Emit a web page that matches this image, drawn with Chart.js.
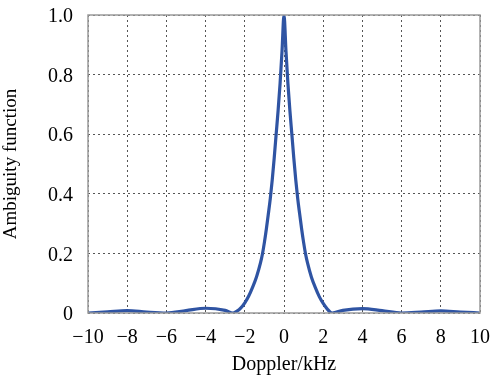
<!DOCTYPE html>
<html>
<head>
<meta charset="utf-8">
<script src="https://cdn.jsdelivr.net/npm/chart.js@4.4.0/dist/chart.umd.min.js"></script>
<style>
  html, body { margin: 0; padding: 0; background: #fff; }
  #wrap { width: 496px; height: 378px; }
</style>
</head>
<body>
<div id="wrap"><canvas id="amb"></canvas></div>
<script>
// values
const dopplerKHz = [-10, -9, -8, -7, -6, -5, -4, -3, -2.6, -2.4, -2.2, -2, -1.8, -1.6, -1.4, -1.2, -1.1, -1, -0.9, -0.8, -0.7, -0.6, -0.5, -0.4, -0.3, -0.2, -0.1, 0,
                    0.1, 0.2, 0.3, 0.4, 0.5, 0.6, 0.7, 0.8, 0.9, 1, 1.1, 1.2, 1.4, 1.6, 1.8, 2, 2.2, 2.45, 3, 4, 5, 6, 7, 8, 9, 10];
const ambiguity = [0, 0.004, 0.008, 0.003, 0, 0.008, 0.016, 0.009, 0, 0.006, 0.017, 0.034, 0.057, 0.087, 0.122, 0.168, 0.198, 0.237, 0.282, 0.332, 0.384, 0.447, 0.52, 0.6, 0.68, 0.77, 0.88, 1.0,
                   0.88, 0.77, 0.68, 0.6, 0.52, 0.447, 0.384, 0.332, 0.282, 0.237, 0.198, 0.168, 0.12, 0.085, 0.055, 0.032, 0.014, 0, 0.009, 0.015, 0.008, 0, 0.003, 0.007, 0.003, 0];
const xTicks = [-10, -8, -6, -4, -2, 0, 2, 4, 6, 8, 10];
const yTicks = [0, 0.2, 0.4, 0.6, 0.8, 1.0];

let pts = [];
for (let i = 0; i < dopplerKHz.length; i++) {
    pts.push({x: dopplerKHz[i], y: ambiguity[i]});
}

const frame = {
    id: 'frame',
    afterDraw(chart) {
        let c = chart.ctx, a = chart.chartArea;
        c.save();
        c.strokeStyle = '#9a9a9a';
        c.lineWidth = 1.5;
        c.strokeRect(a.left, a.top, a.right - a.left, a.bottom - a.top);
        c.restore();
    }
};

new Chart(document.getElementById('amb'), {
    type: 'line',
    data: {
        datasets: [{
            data: pts,
            borderColor: '#2f54a3',
            borderWidth: 3.2,
            pointRadius: 0,
            cubicInterpolationMode: 'monotone',
            fill: false
        }]
    },
    options: {
        responsive: true,
        maintainAspectRatio: false,
        animation: false,
        layout: { padding: { top: 15, right: 16, left: 0, bottom: 0 } },
        plugins: { legend: { display: false }, tooltip: { enabled: false } },
        scales: {
            x: {
                type: 'linear',
                min: -10, max: 10,
                afterBuildTicks: (s) => { s.ticks = xTicks.map(v => ({value: v})); },
                afterFit: (s) => { s.height = 65; s.paddingLeft = 0; s.paddingRight = 0; },
                grid: { color: '#555', lineWidth: 1, drawTicks: false },
                border: { display: false, dash: [2, 3] },
                ticks: {
                    color: '#000', padding: 13,
                    font: { family: 'Liberation Serif', size: 20 },
                    callback: (v) => String(v).replace('-', '\u2212')
                },
                title: {
                    display: true, text: 'Doppler/kHz', color: '#000',
                    font: { family: 'Liberation Serif', size: 20 },
                    padding: { top: 0, bottom: 1 }
                }
            },
            y: {
                min: 0, max: 1,
                afterBuildTicks: (s) => { s.ticks = yTicks.map(v => ({value: v})); },
                afterFit: (s) => { s.width = 88; s.paddingTop = 0; s.paddingBottom = 0; },
                grid: { color: '#555', lineWidth: 1, drawTicks: false },
                border: { display: false, dash: [2, 3] },
                ticks: {
                    color: '#000', padding: 15, labelOffset: 2,
                    font: { family: 'Liberation Serif', size: 20 },
                    callback: (v) => v === 0 ? '0' : v.toFixed(1)
                },
                title: {
                    display: true, text: 'Ambiguity function', color: '#000',
                    font: { family: 'Liberation Serif', size: 19 },
                    padding: { top: 0, bottom: 2 }
                }
            }
        }
    },
    plugins: [frame]
});
</script>
</body>
</html>
